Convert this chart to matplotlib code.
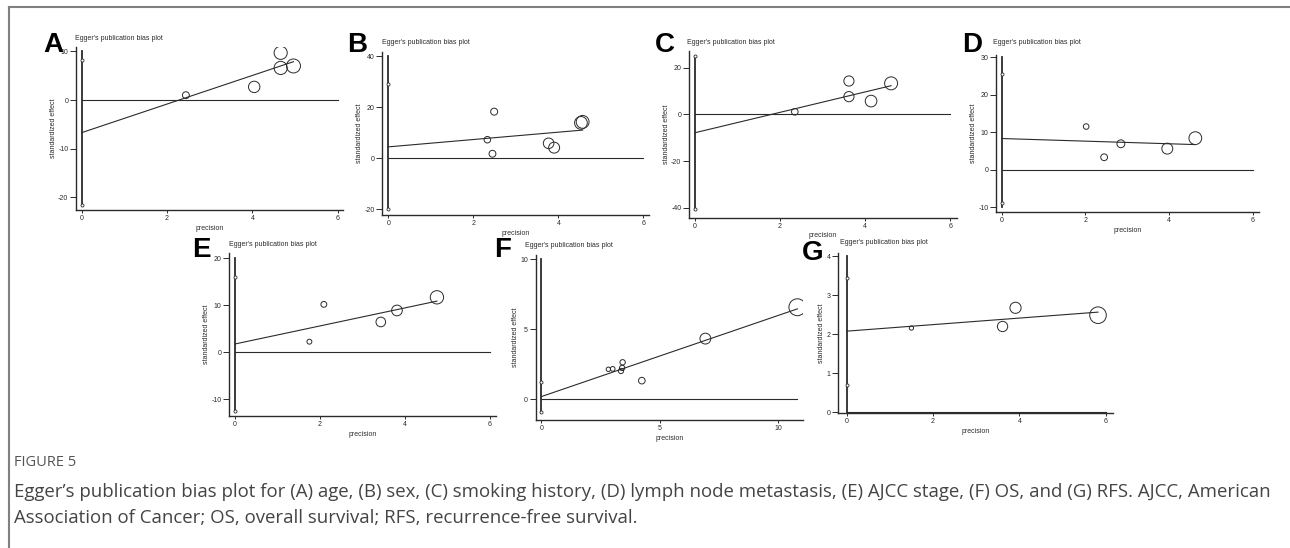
import matplotlib.pyplot as plt
import numpy as np

plt.rcParams['font.family'] = ['Liberation Sans', 'DejaVu Sans']
plt.rcParams['axes.unicode_minus'] = False

W, H = 1290, 548

# (A) age
a_prec = [2.44, 4.04, 4.66, 4.66, 4.96]
a_eff = [1.0, 2.7, 9.7, 6.6, 7.0]
a_fit = [-6.7, 2.94]          # intercept, slope
a_ci = [-21.5, 8.2]
a_xticks = [0, 2, 4, 6]
a_yticks = [-20, -10, 0, 10]

# (B) sex
b_prec = [2.33, 2.49, 2.45, 3.77, 3.90, 4.53, 4.57]
b_eff = [7.3, 18.3, 1.8, 5.9, 4.2, 13.9, 14.3]
b_fit = [4.5, 1.44]
b_ci = [-20.0, 29.0]
b_xticks = [0, 2, 4, 6]
b_yticks = [-20, 0, 20, 40]

# (C) smoking history
c_prec = [2.35, 3.62, 3.62, 4.14, 4.61]
c_eff = [1.1, 14.3, 7.6, 5.7, 13.3]
c_fit = [-7.9, 4.38]
c_ci = [-40.7, 25.0]
c_xticks = [0, 2, 4, 6]
c_yticks = [-40, -20, 0, 20]

# (D) lymph node metastasis
d_prec = [2.02, 2.45, 2.85, 3.96, 4.63]
d_eff = [11.5, 3.3, 6.9, 5.6, 8.4]
d_fit = [8.3, -0.35]
d_ci = [-8.8, 25.4]
d_xticks = [0, 2, 4, 6]
d_yticks = [-10, 0, 10, 20, 30]

# (E) AJCC stage
e_prec = [1.75, 2.09, 3.43, 3.81, 4.75]
e_eff = [2.26, 10.2, 6.45, 8.9, 11.7]
e_fit = [1.77, 1.92]
e_ci = [-12.4, 16.0]
e_xticks = [0, 2, 4, 6]
e_yticks = [-10, 0, 10, 20]

# (F) OS
f_prec = [2.83, 3.01, 3.36, 3.41, 3.43, 4.24, 6.92, 10.8]
f_eff = [2.14, 2.17, 2.02, 2.24, 2.64, 1.33, 4.33, 6.57]
f_fit = [0.19, 0.58]
f_ci = [-0.93, 1.24]
f_xticks = [0, 5, 10]
f_yticks = [0, 5, 10]

# (G) RFS
g_prec = [1.50, 3.61, 3.91, 5.82]
g_eff = [2.16, 2.20, 2.68, 2.49]
g_fit = [2.08, 0.084]
g_ci = [0.69, 3.45]
g_xticks = [0, 2, 4, 6]
g_yticks = [0, 1, 2, 3, 4]

labels = ['A', 'B', 'C', 'D', 'E', 'F', 'G']
title_text = "Egger's publication bias plot"

caption_head = 'FIGURE 5'
caption_line1 = ("Egger\u2019s publication bias plot for (A) age, (B) sex, (C) smoking history, "
                 "(D) lymph node metastasis, (E) AJCC stage, (F) OS, and (G) RFS. AJCC, American")
caption_line2 = "Association of Cancer; OS, overall survival; RFS, recurrence-free survival."

data = [
    (a_prec, a_eff, a_fit, a_ci, a_xticks, a_yticks),
    (b_prec, b_eff, b_fit, b_ci, b_xticks, b_yticks),
    (c_prec, c_eff, c_fit, c_ci, c_xticks, c_yticks),
    (d_prec, d_eff, d_fit, d_ci, d_xticks, d_yticks),
    (e_prec, e_eff, e_fit, e_ci, e_xticks, e_yticks),
    (f_prec, f_eff, f_fit, f_ci, f_xticks, f_yticks),
    (g_prec, g_eff, g_fit, g_ci, g_xticks, g_yticks),
]

# layout in pixels: axes box (left, top, right, bottom), xlim, ylim, letter pos, title pos
layout = [
    ((76, 47, 343, 210), (-0.134, 6.12), (-22.6, 10.9), (43, 52), (75, 38)),
    ((382.3, 51.7, 649, 215), (-0.14, 6.13), (-22.2, 41.8), (347, 52), (382, 42)),
    ((689, 50.7, 956.7, 217.7), (-0.134, 6.15), (-44.3, 27.3), (655, 52), (687, 42.5)),
    ((996, 55, 1259.3, 212.3), (-0.136, 6.16), (-11.4, 30.6), (962, 52), (993, 42.5)),
    ((229.3, 253.3, 496, 416), (-0.134, 6.14), (-13.55, 21.06), (192, 257), (229, 244)),
    ((535.7, 255, 803.3, 420), (-0.236, 11.05), (-1.48, 10.3), (494, 257), (525, 245.5)),
    ((838, 253.3, 1112.7, 413.3), (-0.2, 6.16), (-0.03, 4.08), (802, 260), (840, 242)),
]

ink = '#2b2b2b'
fig = plt.figure(figsize=(W / 100, H / 100), dpi=100)

# frame lines (top and left)
fig.add_artist(plt.Line2D([9 / W, 1], [1 - 7 / H, 1 - 7 / H], color='#808080', lw=1.5))
fig.add_artist(plt.Line2D([9 / W, 9 / W], [0, 1 - 7 / H], color='#808080', lw=1.5))

for lab, (prec, eff, fit, ci, xt, yt), (box, xl, yl, lpos, tpos) in zip(labels, data, layout):
    l, t, r, b = box
    ax = fig.add_axes([l / W, 1 - b / H, (r - l) / W, (b - t) / H])
    ax.set_xlim(xl)
    ax.set_ylim(yl)
    for s in ['top', 'right']:
        ax.spines[s].set_visible(False)
    for s in ['left', 'bottom']:
        ax.spines[s].set_color(ink)
        ax.spines[s].set_linewidth(1.0)
    ax.set_xticks(xt)
    ax.set_yticks(yt)
    ax.tick_params(axis='y', length=4, width=0.7, pad=1.5, labelsize=5, colors=ink)
    ax.tick_params(axis='x', length=2.5, width=0.7, pad=1, labelsize=5, colors=ink)
    ax.set_xlabel('precision', fontsize=5, color=ink, labelpad=2)
    ax.set_ylabel('standardized effect', fontsize=5, color=ink, labelpad=1)

    prec = np.array(prec)
    xmax = max(xt[-1], prec.max())
    # zero line
    ax.plot([0, xmax], [0, 0], color=ink, lw=0.8)
    # vertical line at precision 0 with CI of intercept
    ax.plot([0, 0], [min(yt[0], ci[0]), max(yt[-1], ci[1])], color=ink, lw=1.3)
    ax.plot([0, 0], ci, ls='none', marker='o', ms=2.2, mfc='white', mec=ink, mew=0.6)
    # fitted line
    xx = np.array([0, prec.max()])
    ax.plot(xx, fit[0] + fit[1] * xx, color=ink, lw=0.8)
    # study circles sized by precision
    ppu = (r - l) / (xl[1] - xl[0])
    rad_px = 0.033 * prec * ppu
    ax.scatter(prec, eff, s=(2 * rad_px * 0.72) ** 2, facecolors='none',
               edgecolors=ink, linewidths=0.7, zorder=3)

    fig.text(lpos[0] / W, 1 - lpos[1] / H, lab, fontsize=20, fontweight='bold',
             ha='left', va='baseline', color='black')
    fig.text(tpos[0] / W, 1 - tpos[1] / H, title_text, fontsize=5, ha='left',
             va='center', color=ink)

fig.text(14 / W, 1 - 462 / H, caption_head, fontsize=10.5, color='#555555',
         family='Open Sans', va='center', ha='left')
fig.text(14 / W, 1 - 492 / H, caption_line1, fontsize=13.4, color='#444444',
         family='Open Sans', va='center', ha='left')
fig.text(14 / W, 1 - 518 / H, caption_line2, fontsize=13.4, color='#444444',
         family='Open Sans', va='center', ha='left')

fig.savefig('out.png', dpi=100)
